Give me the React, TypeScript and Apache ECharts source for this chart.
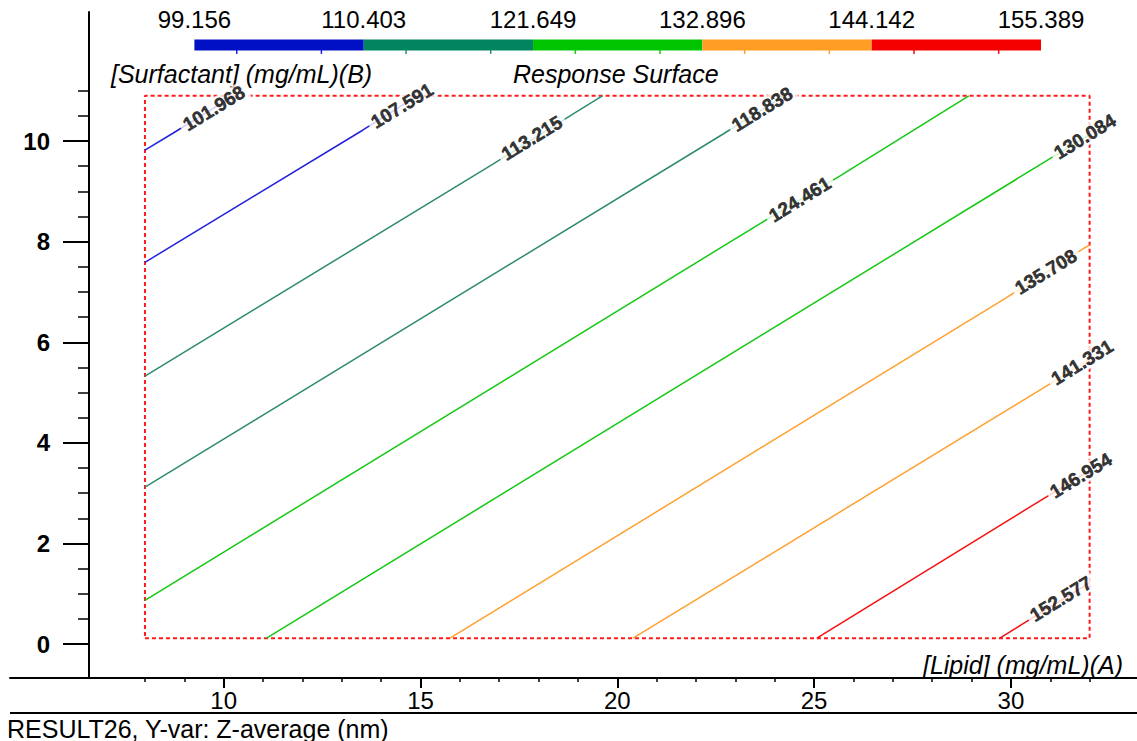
import React, { useEffect, useRef } from "react";
import * as echarts from "echarts";

const W = 1137;
const H = 741;
const FONT = "'Liberation Sans', Arial, Helvetica, sans-serif";

// ---- data ----
const levels = [101.968, 107.591, 113.215, 118.838, 124.461, 130.084, 135.708, 141.331, 146.954, 152.577];
const levelColorIndex = [0, 0, 1, 1, 2, 2, 3, 3, 4, 4];
const legendBounds = [99.156, 110.403, 121.649, 132.896, 144.142, 155.389];
const legendColors = ["#0010c4", "#008560", "#00c400", "#ff9e22", "#f50000"];
const lineColors = ["#2222dc", "#2e8b6e", "#14c814", "#ffa030", "#f51010"];

const c101968 = [[8, 9.82], [8.72, 10.16], [10.25, 10.9]];
const c107591 = [[8, 7.59], [13.54, 10.22], [14.91, 10.9]];
const c113215 = [[8, 5.33], [16.84, 9.54], [18.88, 10.54], [19.62, 10.9]];
const c118838 = [[8, 3.12], [22.69, 10.14], [24.24, 10.9]];
const c124461 = [[8, 0.87], [23.67, 8.38], [25.66, 9.31], [28.93, 10.9]];
const c130084 = [[11.09, 0.12], [30.91, 9.61], [32, 10.13]];
const c135708 = [[15.75, 0.12], [29.89, 6.89], [31.88, 7.88], [32, 7.93]];
const c141331 = [[20.4, 0.12], [30.82, 5.09], [32, 5.66]];
const c146954 = [[25.07, 0.12], [30.78, 2.87], [32, 3.45]];
const c152577 = [[29.72, 0.12], [30.27, 0.39], [32, 1.22]];
const contourLines = [c101968, c107591, c113215, c118838, c124461, c130084, c135708, c141331, c146954, c152577];

const labelPoints = [
  [9.75, 10.65], [14.53, 10.7], [17.83, 10.06], [23.68, 10.63], [24.64, 8.84],
  [31.88, 10.09], [30.89, 7.4], [31.81, 5.6], [31.78, 3.35], [31.27, 0.9],
];

const designBox = [[8, 0.12], [32, 0.12], [32, 10.9], [8, 10.9], [8, 0.12]];

const xMajorTicks = [10, 15, 20, 25, 30];
const xMinorTicks = [8, 9, 11, 12, 13, 14, 16, 17, 18, 19, 21, 22, 23, 24, 26, 27, 28, 29, 31, 32];
const yMajorTicks = [0, 2, 4, 6, 8, 10];
const yMinorTicks = [0.5, 1, 1.5, 2.5, 3, 3.5, 4.5, 5, 5.5, 6.5, 7, 7.5, 8.5, 9, 9.5, 10.5, 11];

const xMin = 4.571;
const xMax = 33.204;
const yMin = -0.672;
const yMax = 12.565;

function buildOption() {
  const legendSegments = legendBounds.slice(0, -1).map((lo, i) => [lo, legendBounds[i + 1], i]);
  const legendTicks = levels.map((v, i) => [v, levelColorIndex[i]]);

  const contourSeries = contourLines.map((pts, i) => ({
    type: "line",
    xAxisIndex: 0,
    yAxisIndex: 0,
    data: pts,
    symbol: "none",
    silent: true,
    z: 3,
    lineStyle: { color: lineColors[levelColorIndex[i]], width: 1.5 },
  }));

  const baseX = {
    type: "value",
    gridIndex: 0,
    position: "bottom",
    min: xMin,
    max: xMax,
    splitLine: { show: false },
  };
  const baseY = {
    type: "value",
    gridIndex: 0,
    position: "left",
    offset: -79,
    min: yMin,
    max: yMax,
    splitLine: { show: false },
  };

  return {
    animation: false,
    backgroundColor: "#ffffff",
    textStyle: { fontFamily: FONT },
    grid: [
      { left: 10, top: 12, width: 1127, height: 666 },
      { left: 194.4, top: 39.5, width: 846.6, height: 11 },
    ],
    xAxis: [
      {
        ...baseX,
        axisLine: { onZero: false, lineStyle: { color: "#000", width: 2 } },
        axisTick: { customValues: xMajorTicks, length: 10, lineStyle: { color: "#000", width: 2 } },
        axisLabel: { customValues: xMajorTicks, fontSize: 24, color: "#000", margin: 10.5, fontFamily: FONT },
      },
      {
        ...baseX,
        axisLine: { show: false, onZero: false },
        axisTick: { customValues: xMinorTicks, length: 4, lineStyle: { color: "#000", width: 1.5 } },
        axisLabel: { show: false },
      },
      {
        type: "value",
        gridIndex: 1,
        position: "top",
        min: legendBounds[0],
        max: legendBounds[legendBounds.length - 1],
        axisLine: { show: false },
        axisTick: { show: false },
        splitLine: { show: false },
        axisLabel: {
          customValues: legendBounds,
          formatter: (v: number) => v.toFixed(3),
          fontSize: 24,
          color: "#000",
          margin: 8,
          fontFamily: FONT,
        },
      },
    ],
    yAxis: [
      {
        ...baseY,
        axisLine: { onZero: false, lineStyle: { color: "#000", width: 2 } },
        axisTick: { customValues: yMajorTicks, length: 26, lineStyle: { color: "#000", width: 2 } },
        axisLabel: {
          customValues: yMajorTicks,
          fontSize: 24,
          fontWeight: "bold",
          color: "#000",
          margin: 39,
          fontFamily: FONT,
        },
      },
      {
        ...baseY,
        axisLine: { show: false, onZero: false },
        axisTick: { customValues: yMinorTicks, length: 11, lineStyle: { color: "#000", width: 1.5 } },
        axisLabel: { show: false },
      },
      { type: "value", gridIndex: 1, min: 0, max: 1, show: false },
    ],
    series: [
      {
        type: "line",
        xAxisIndex: 0,
        yAxisIndex: 0,
        data: designBox,
        symbol: "none",
        silent: true,
        z: 2,
        lineStyle: { color: "#ff1a1a", width: 2, type: [4, 3] },
      },
      ...contourSeries,
      {
        type: "scatter",
        xAxisIndex: 0,
        yAxisIndex: 0,
        data: labelPoints.map((p, i) => [p[0], p[1], levels[i]]),
        symbolSize: 1,
        itemStyle: { color: "rgba(0,0,0,0)" },
        silent: true,
        z: 10,
        label: {
          show: true,
          position: "inside",
          rotate: 31.5,
          formatter: (p: any) => Number(p.value[2]).toFixed(3),
          fontSize: 19,
          fontWeight: "bold",
          color: "#000",
          textBorderColor: "#000",
          textBorderWidth: 0.5,
          fontFamily: FONT,
          backgroundColor: "#ffffff",
          padding: [0, 4],
        },
      },
      {
        type: "custom",
        xAxisIndex: 2,
        yAxisIndex: 2,
        data: legendSegments,
        encode: { x: [0, 1] },
        silent: true,
        renderItem: (_params: any, api: any) => {
          const a = api.coord([api.value(0), 1]);
          const b = api.coord([api.value(1), 0]);
          return {
            type: "rect",
            shape: { x: a[0], y: a[1], width: b[0] - a[0], height: b[1] - a[1] },
            style: { fill: legendColors[api.value(2)] },
          };
        },
      },
      {
        type: "custom",
        xAxisIndex: 2,
        yAxisIndex: 2,
        data: legendTicks,
        encode: { x: 0 },
        silent: true,
        z: 3,
        renderItem: (_params: any, api: any) => {
          const p = api.coord([api.value(0), 0]);
          return {
            type: "line",
            shape: { x1: p[0], y1: p[1] - 0.5, x2: p[0], y2: p[1] + 3.5 },
            style: { stroke: lineColors[api.value(1)], lineWidth: 1.5 },
          };
        },
      },
    ],
    graphic: [
      {
        type: "text",
        left: 111,
        top: 61,
        style: { text: "[Surfactant] (mg/mL)(B)", font: `italic 25px ${FONT}`, fill: "#000" },
      },
      {
        type: "text",
        left: 513,
        top: 61,
        style: { text: "Response Surface", font: `italic 25px ${FONT}`, fill: "#000" },
      },
      {
        type: "text",
        right: 14,
        top: 652,
        style: { text: "[Lipid] (mg/mL)(A)", font: `italic 25px ${FONT}`, fill: "#000" },
      },
      {
        type: "line",
        shape: { x1: 10, y1: 713, x2: 1137, y2: 713 },
        style: { stroke: "#000", lineWidth: 2 },
      },
      {
        type: "text",
        left: 7,
        top: 716,
        style: { text: "RESULT26, Y-var: Z-average (nm)", font: `25px ${FONT}`, fill: "#000" },
      },
    ],
  };
}

export default function App() {
  const ref = useRef<HTMLDivElement>(null);
  useEffect(() => {
    if (!ref.current) return;
    const chart = echarts.init(ref.current, null, { renderer: "svg", width: W, height: H });
    chart.setOption(buildOption() as any);
    return () => chart.dispose();
  }, []);
  return (
    <div
      ref={ref}
      style={{ position: "absolute", left: 0, top: 0, width: W, height: H, background: "#fff" }}
    />
  );
}
